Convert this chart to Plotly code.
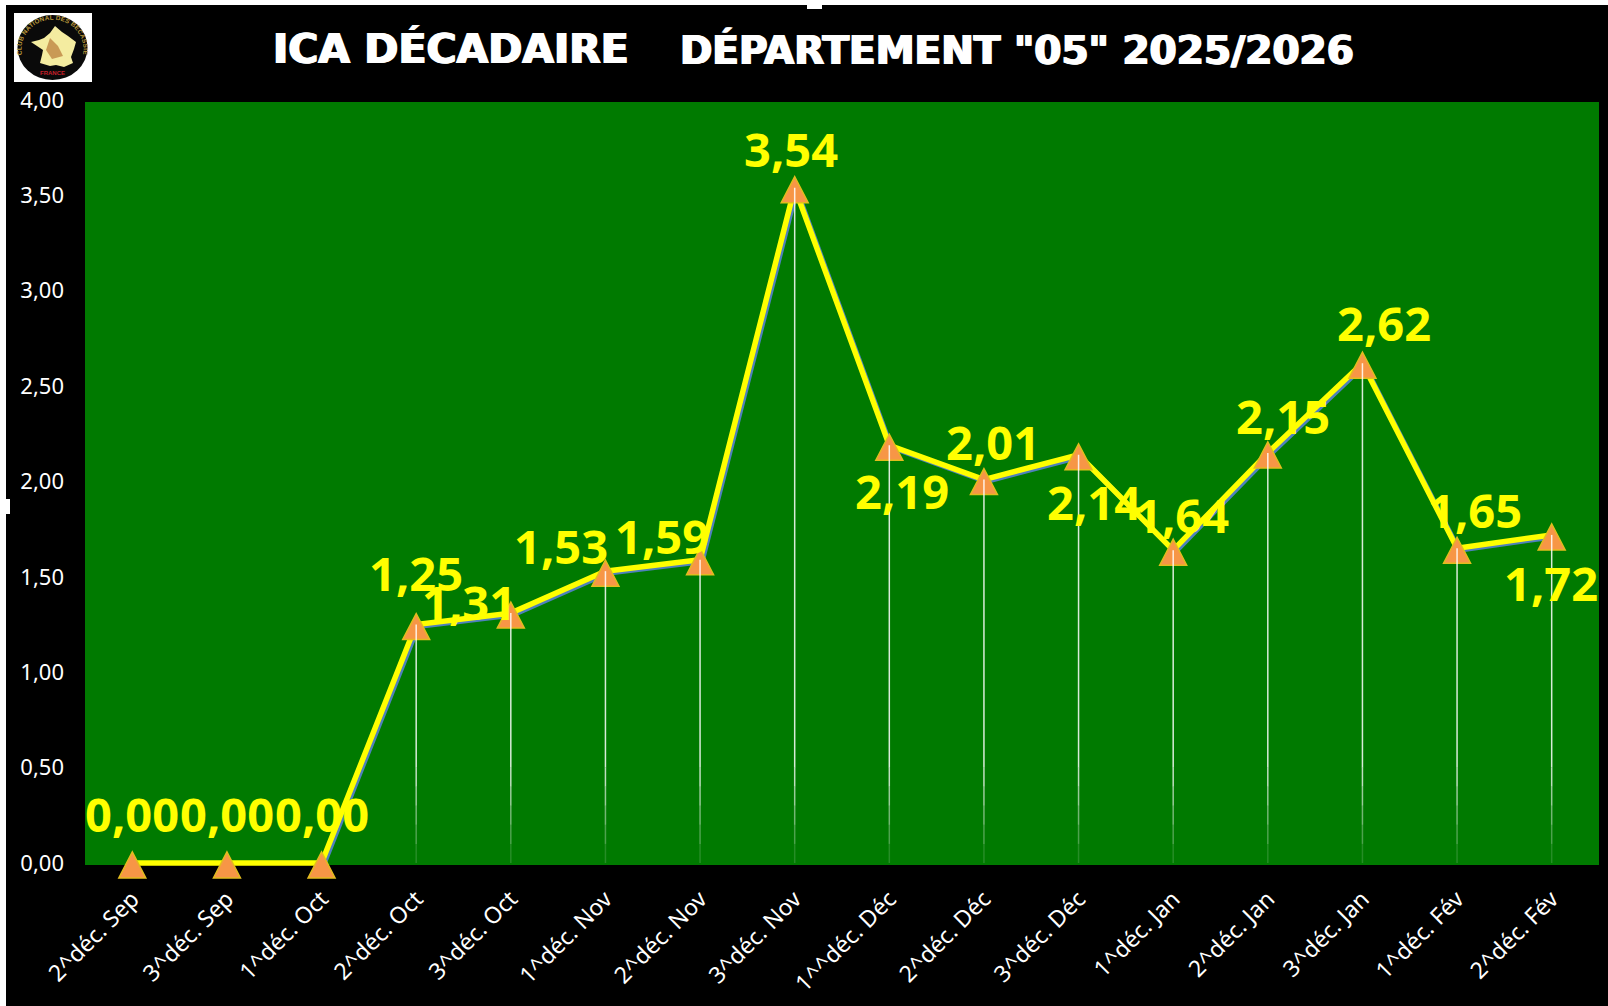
import base64
import plotly.graph_objects as go

categories = ["2^déc. Sep", "3^déc. Sep", "1^déc. Oct", "2^déc. Oct", "3^déc. Oct", "1^déc. Nov",
              "2^déc. Nov", "3^déc. Nov", "1^^déc. Déc", "2^déc. Déc", "3^déc. Déc", "1^déc. Jan",
              "2^déc. Jan", "3^déc. Jan", "1^déc. Fév", "2^déc. Fév"]
values = [0.00, 0.00, 0.00, 1.25, 1.31, 1.53, 1.59, 3.54, 2.19, 2.01, 2.14, 1.64, 2.15, 2.62, 1.65, 1.72]
y_ticks = [0, 0.5, 1, 1.5, 2, 2.5, 3, 3.5, 4]
label_dx = [0, 0, 0, 0, -42, -44, -38, -4, 13, 9, 15, 9, 15, 22, 18, -1]
label_dy = [-49, -49, -49, -52, -11, -25, -24, -39, 46, -38, 47, -35, -37, -40, -38, 48]

W, H = 1608, 1006
L, R, T, B = 85, 1599, 100, 880
Y0_PX, PX_PER_UNIT = 863, 190.75
GREEN_BOTTOM, GREEN_TOP = 865, 102
xspan = [-0.5, 15.5]
yspan = [(Y0_PX - B) / PX_PER_UNIT, 4]
sx, sy = 2 / 94.6, 2 / PX_PER_UNIT  # offset of the blue under-line


def px(v):
    return (v - L) / (R - L)


def py(v):
    return (B - v) / (B - T)


def yval(v):
    return (Y0_PX - v) / PX_PER_UNIT


logo_svg = """<svg xmlns="http://www.w3.org/2000/svg" width="78" height="69" viewBox="0 0 78 69">
<rect width="78" height="69" fill="#ffffff"/>
<ellipse cx="38.5" cy="34.5" rx="35" ry="32.5" fill="#0a0a0a"/>
<defs><path id="arc" d="M8,42 A31,30 0 1 1 69,42"/></defs>
<text font-family="Liberation Sans" font-weight="700" font-size="6.4" fill="#b8963a" textLength="115"><textPath href="#arc">CLUB NATIONAL DES BÉCASSIERS</textPath></text>
<polygon points="41,13 48,19 54,23 62,29 60,36 57,44 59,50 50,54 42,52 36,53 26,50 28,42 29,37 23,33 17,29 25,27 30,25 36,20" fill="#f4eca0"/>
<polygon points="36,25 44,33 49,43 38,46 32,37" fill="#c99a55"/>
<text x="38.5" y="62" text-anchor="middle" font-family="Liberation Sans" font-weight="700" font-size="6" fill="#c8202a">FRANCE</text>
</svg>"""
logo_uri = "data:image/svg+xml;base64," + base64.b64encode(logo_svg.encode("utf-8")).decode()

fig = go.Figure()

# under-line in blue, then the main yellow line on top of it
fig.add_trace(go.Scatter(x=categories[2:], y=values[2:], mode="lines", xaxis="x2", yaxis="y2",
                         line=dict(color="#4F81BD", width=5), hoverinfo="skip", showlegend=False))
fig.add_trace(go.Scatter(x=categories, y=values, mode="lines", name="ICA", xaxis="x3", yaxis="y3",
                         line=dict(color="#FFFF00", width=5.5), showlegend=False))

shapes = [
    dict(type="rect", xref="paper", yref="y", x0=0, x1=1, y0=yval(GREEN_BOTTOM), y1=yval(GREEN_TOP),
         fillcolor="#007A00", line_width=0, layer="below"),
    dict(type="rect", xref="paper", yref="paper", x0=px(0), x1=px(6), y0=py(H), y1=py(0),
         fillcolor="#ffffff", line_width=0),
    dict(type="rect", xref="paper", yref="paper", x0=px(0), x1=px(W), y0=py(5), y1=py(0),
         fillcolor="#ffffff", line_width=0),
    dict(type="rect", xref="paper", yref="paper", x0=px(807), x1=px(822), y0=py(9), y1=py(0),
         fillcolor="#ffffff", line_width=0),
    dict(type="rect", xref="paper", yref="paper", x0=px(0), x1=px(10), y0=py(514), y1=py(499),
         fillcolor="#ffffff", line_width=0),
]

# triangles, anchored on the data values
for i, v in enumerate(values):
    shapes.append(dict(type="path", xref="x", yref="y", xsizemode="pixel", ysizemode="pixel",
                       xanchor=i, yanchor=v, path="M-13.5,-15 L13.5,-15 L0,11 Z",
                       fillcolor="#F79646", line=dict(color="#E3BC1E", width=1.5)))

# drop lines from each non-zero value, fading out near the axis
fade_steps = [(0.5, 0.4, 0.75), (0.4, 0.3, 0.6), (0.3, 0.2, 0.45), (0.2, 0.1, 0.3), (0.1, 0.0, 0.15)]
for i, v in enumerate(values):
    if v <= 0:
        continue
    shapes.append(dict(type="line", xref="x", yref="y", x0=i, x1=i, y0=v, y1=0.5,
                       line=dict(color="rgba(255,255,255,0.85)", width=1.5)))
    for y_hi, y_lo, alpha in fade_steps:
        shapes.append(dict(type="line", xref="x", yref="y", x0=i, x1=i, y0=y_hi, y1=y_lo,
                           line=dict(color=f"rgba(255,255,255,{alpha})", width=1.5)))

annotations = [
    dict(x=i, y=v, xref="x", yref="y", text=f"{v:.2f}".replace(".", ","), showarrow=False,
         xshift=dx, yshift=-dy, font=dict(family="Noto Sans", size=47, color="#FFFF00", weight=700))
    for i, (v, dx, dy) in enumerate(zip(values, label_dx, label_dy))
]
heavy = "1px 0 0 #fff, -1px 0 0 #fff"
annotations += [
    dict(x=px(451), y=py(49), xref="paper", yref="paper", xanchor="center", yanchor="middle",
         text="ICA DÉCADAIRE", showarrow=False,
         font=dict(family="DejaVu Sans", size=41, color="#ffffff", weight=700, shadow=heavy)),
    dict(x=px(1017), y=py(50), xref="paper", yref="paper", xanchor="center", yanchor="middle",
         text='DÉPARTEMENT "05" 2025/2026', showarrow=False,
         font=dict(family="DejaVu Sans", size=39, color="#ffffff", weight=700, shadow=heavy)),
]

tick_font = dict(family="Noto Sans", size=22, color="#ffffff")
x_tick_font = dict(family="Noto Sans", size=23, color="#ffffff")
overlay_x = dict(type="category", categoryorder="array", categoryarray=categories, overlaying="x", visible=False)
fig.update_layout(
    width=W, height=H, autosize=False,
    margin=dict(l=L, r=W - R, t=T, b=H - B, pad=0),
    paper_bgcolor="#000000", plot_bgcolor="#000000",
    separators=", ",
    showlegend=False,
    xaxis=dict(type="category", categoryorder="array", categoryarray=categories, range=xspan,
               tickangle=-45, tickfont=x_tick_font, showgrid=False, zeroline=False, showline=False,
               ticks="", ticklabelstandoff=0),
    yaxis=dict(range=yspan, tickvals=y_ticks, tickformat=".2f", tickfont=tick_font,
               showgrid=False, zeroline=False, showline=False, ticks="", ticklabelstandoff=20),
    xaxis2=dict(overlay_x, range=[xspan[0] - sx, xspan[1] - sx], anchor="y2"),
    yaxis2=dict(range=[yspan[0] + sy, yspan[1] + sy], overlaying="y", visible=False, anchor="x2"),
    xaxis3=dict(overlay_x, range=xspan, anchor="y3"),
    yaxis3=dict(range=yspan, overlaying="y", visible=False, anchor="x3"),
    shapes=shapes,
    annotations=annotations,
    images=[dict(source=logo_uri, xref="paper", yref="paper", x=px(14), y=py(13),
                 sizex=78 / (R - L), sizey=69 / (B - T), xanchor="left", yanchor="top",
                 sizing="stretch", layer="above")],
)

fig.write_html("out.html", config={"displayModeBar": False},
               post_script="document.body.style.margin='0';document.body.style.overflow='hidden';")
